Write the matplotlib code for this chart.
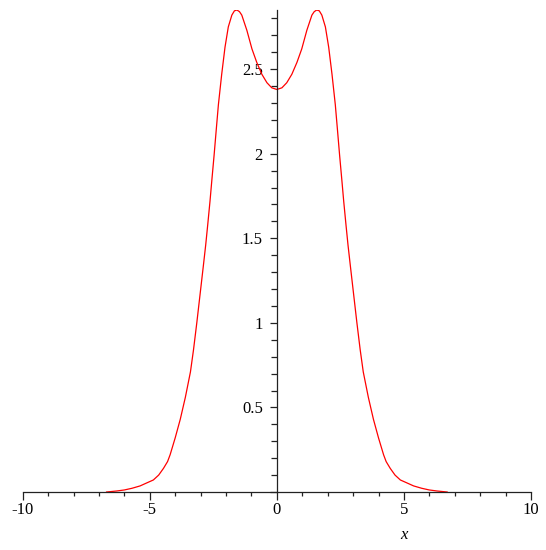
import matplotlib
matplotlib.use("Agg")
import matplotlib.pyplot as plt
from matplotlib.ticker import MultipleLocator, FuncFormatter

# values
x_vals = [-6.7, -6.3, -6.0, -5.7, -5.38, -5.1, -4.86, -4.65, -4.46, -4.3,
          -4.2, -4.0, -3.8, -3.6, -3.4, -3.28, -3.15, -3.02, -2.89, -2.8,
          -2.72, -2.63, -2.56, -2.47, -2.38, -2.3, -2.17, -2.04, -1.91, -1.77,
          -1.67, -1.57, -1.47, -1.38, -1.18, -0.98, -0.79, -0.59, -0.39, -0.2,
          0.0,
          0.2, 0.39, 0.59, 0.79, 0.98, 1.18, 1.38, 1.47, 1.57, 1.67,
          1.77, 1.91, 2.04, 2.17, 2.3, 2.38, 2.47, 2.56, 2.63, 2.72,
          2.8, 2.89, 3.02, 3.15, 3.28, 3.4, 3.6, 3.8, 4.0, 4.2,
          4.3, 4.46, 4.65, 4.86, 5.1, 5.38, 5.7, 6.0, 6.3, 6.7]
y_vals = [0.0, 0.006, 0.012, 0.022, 0.036, 0.055, 0.071, 0.1, 0.14, 0.18,
          0.22, 0.32, 0.43, 0.56, 0.71, 0.84, 1.0, 1.17, 1.34, 1.46,
          1.58, 1.72, 1.84, 1.99, 2.15, 2.29, 2.47, 2.63, 2.75, 2.82,
          2.845, 2.85, 2.84, 2.82, 2.73, 2.62, 2.54, 2.47, 2.42, 2.39,
          2.38,
          2.39, 2.42, 2.47, 2.54, 2.62, 2.73, 2.82, 2.84, 2.85, 2.845,
          2.82, 2.75, 2.63, 2.47, 2.29, 2.15, 1.99, 1.84, 1.72, 1.58,
          1.46, 1.34, 1.17, 1.0, 0.84, 0.71, 0.56, 0.43, 0.32, 0.22,
          0.18, 0.14, 0.1, 0.071, 0.055, 0.036, 0.022, 0.012, 0.006, 0.0]

x_range = (-10, 10)
y_range = (0, 2.85)

plt.rcParams["axes.unicode_minus"] = False
plt.rcParams["font.family"] = "Liberation Serif"

fig = plt.figure(figsize=(5.46, 5.5), dpi=100)
ax = fig.add_axes([22.7 / 546, 58 / 550, (531 - 22.7) / 546, 482 / 550])

ax.plot(x_vals, y_vals, color="red", linewidth=0.9)

ax.set_xlim(*x_range)
ax.set_ylim(*y_range)

# Maple style axes crossing at the origin
ax.spines["top"].set_visible(False)
ax.spines["right"].set_visible(False)
ax.spines["left"].set_position(("data", 0))
for s in ("left", "bottom"):
    ax.spines[s].set_linewidth(0.9)
    ax.spines[s].set_color("#222222")

ax.xaxis.set_major_locator(MultipleLocator(5))
ax.xaxis.set_minor_locator(MultipleLocator(1))
ax.yaxis.set_major_locator(MultipleLocator(0.5))
ax.yaxis.set_minor_locator(MultipleLocator(0.1))


def fmt(v, pos):
    if abs(v) < 1e-9:
        return "0"
    return ("%g" % v)


ax.xaxis.set_major_formatter(FuncFormatter(fmt))
ax.yaxis.set_major_formatter(FuncFormatter(lambda v, p: "" if v < 0.25 else "%g" % v))

ax.tick_params(axis="x", which="major", direction="out", length=5.5, width=0.9,
               labelsize=12, pad=2, color="#222222")
ax.tick_params(axis="x", which="minor", direction="out", length=3.2, width=0.9,
               color="#222222")
ax.tick_params(axis="y", which="major", direction="out", length=5, width=0.9,
               labelsize=12, pad=5, color="#222222")
ax.tick_params(axis="y", which="minor", direction="out", length=4, width=0.9,
               color="#222222")

ax.annotate("x", xy=(5, 0), xytext=(0, -31), textcoords="offset points",
            ha="center", va="center", fontsize=12, style="italic")

fig.savefig("out.png", dpi=100)
